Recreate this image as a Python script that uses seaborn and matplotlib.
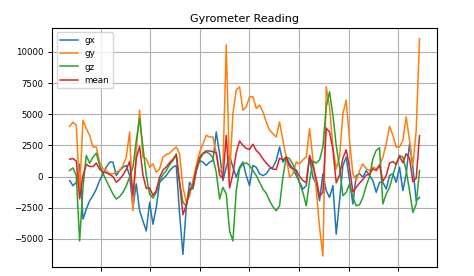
import numpy as np
import pandas as pd
import matplotlib
matplotlib.use("Agg")
import matplotlib.pyplot as plt
import seaborn as sns

gx = [-320, -730, -460, 1000, -3410, -2610, -1940, -1530, -1000, -320,
      220, 750, 1160, 1160, 80, 480, 750, 890, 80, -2470,
      -590, -2740, -3550, -4360, -2070, -3820, -2470, -460, -190, 80,
      480, 750, 890, -3010, -6240, -2470, -460, -1000, 480, 1290,
      1160, 890, 1160, 1290, 3580, 1830, -320, 750, 1690, 750,
      -50, 750, 1160, 80, -730, 890, 750, 220, 80, 220,
      620, 750, 1290, 2370, 1160, 1560, 1020, 620, 80, -460,
      -1000, -730, 1560, -50, -590, -1940, 220, -1130, -1670, -730,
      -4620, -1940, 890, 1560, -320, -2200, 80, 220, -50, 480,
      80, -320, -1260, -460, -460, -1000, 80, 220, -460, 750,
      -1130, 220, 2630, 750, -1940, -1670]

gy = [4030, 4360, 4110, -1200, 4520, 3840, 3310, 2370, 2370, 1160,
      620, 480, 220, 220, 350, 480, 890, 1560, 3580, -2740,
      2100, 5320, 1560, 1430, 750, 1020, 350, 620, 1560, 1770,
      1880, 2150, 2370, 1830, -860, -2070, -1530, -320, 890, 1960,
      2630, 3310, 3170, 3170, 1830, 350, 750, 10560, -50, 5050,
      6940, 7200, 5320, 5590, 6400, 6400, 5460, 5730, 5190, 4380,
      3710, 3440, 3170, 4380, 2900, 1560, -50, 220, 1160, 1020,
      1340, 1560, 3840, 1430, -1000, -4090, -6370, 7200, 5590, 2370,
      620, 1560, 5050, 6130, 2900, 220, -320, 480, 1020, 620,
      480, 750, 620, 890, 1560, 2630, 4030, 3310, 2370, 2370,
      2900, 4790, 2900, 890, 3710, 11050]

gz = [480, 700, 80, -5160, -860, 1690, 1080, 1560, 1880, 890,
      270, -320, -860, -1400, -1800, -1610, -1260, -730, -50, 750,
      2900, 4650, 2370, 80, -1400, -1720, -1260, -320, 160, 480,
      970, 1290, 1830, -460, -2070, -2340, -1130, -860, 430, 1340,
      1830, 1960, 1830, 1510, 350, -1800, -860, -1400, -4360, -5160,
      -1130, 620, 1020, 1100, 890, 480, 80, -460, -1000, -1340,
      -1940, -2420, -2740, -2340, -50, 1560, 1430, 970, 350, -540,
      -1260, -2340, -320, 1240, 1080, 1340, 2370, 5590, 6800, 4920,
      2500, 750, -1530, -1260, -590, -1670, -2340, -2260, -1670, -730,
      0, 1430, 2100, 2310, -2200, -1400, -860, 80, 1020, 1690,
      1560, 480, -1130, -2880, -2200, 480]

series = ["gx", "gy", "gz", "mean"]
colors = ["#1f77b4", "#ff7f0e", "#2ca02c", "#d62728"]

df = pd.DataFrame({"gx": gx, "gy": gy, "gz": gz})
df["mean"] = df[["gx", "gy", "gz"]].mean(axis=1)
df["sample"] = np.arange(len(df))
long = df.melt(id_vars="sample", value_vars=series, var_name="axis", value_name="reading")

plt.rcParams["font.family"] = ["DejaVu Sans"]

fig = plt.figure(figsize=(4.74, 2.76), dpi=100)
ax = fig.add_axes([0.110, 0.033, 0.812, 0.866])
sns.lineplot(data=long, x="sample", y="reading", hue="axis", hue_order=series,
             palette=colors, linewidth=1.1, ax=ax)
ax.grid(True, color="#b0b0b0", linewidth=0.8)
ax.set_xlabel("")
ax.set_ylabel("")
ax.set_xticks(np.arange(9.35, 106, 14.87))
ax.set_xticklabels([])
ax.tick_params(labelsize=6.2, length=3, width=0.7)
for s in ax.spines.values():
    s.set_linewidth(0.8)
ax.set_title("Gyrometer Reading", fontsize=8, pad=4)
h, l = ax.get_legend_handles_labels()
ax.legend(h, l, loc="upper left", fontsize=6.3, handlelength=2.0)

fig.savefig("out.png", dpi=100)
